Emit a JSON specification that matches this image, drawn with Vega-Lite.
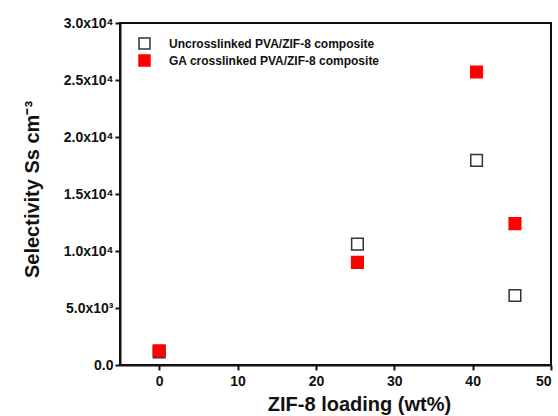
{
  "$schema": "https://vega.github.io/schema/vega-lite/v6.json",
  "autosize": "none",
  "width": 431,
  "height": 342,
  "padding": {"left": 120, "top": 23, "right": 7, "bottom": 51},
  "background": "white",
  "config": {
    "font": "Liberation Sans",
    "view": {"stroke": "#111", "strokeWidth": 2},
    "axis": {"grid": false, "domainColor": "#111", "domainWidth": 2, "tickColor": "#111", "tickWidth": 2, "tickSize": 5, "labelFont": "Liberation Sans", "labelFontWeight": "bold", "labelFontSize": 14, "labelColor": "#111", "titleFont": "Liberation Sans", "titleFontWeight": "bold", "titleFontSize": 20, "titleColor": "#111"}
  },
  "data": {
    "values": [
      {"loading": 0, "selectivity": 1150, "series": "Uncrosslinked PVA/ZIF-8 composite"},
      {"loading": 25.3, "selectivity": 10600, "series": "Uncrosslinked PVA/ZIF-8 composite"},
      {"loading": 40.5, "selectivity": 17950, "series": "Uncrosslinked PVA/ZIF-8 composite"},
      {"loading": 45.4, "selectivity": 6100, "series": "Uncrosslinked PVA/ZIF-8 composite"},
      {"loading": 0, "selectivity": 1250, "series": "GA crosslinked PVA/ZIF-8 composite"},
      {"loading": 25.3, "selectivity": 9000, "series": "GA crosslinked PVA/ZIF-8 composite"},
      {"loading": 40.5, "selectivity": 25700, "series": "GA crosslinked PVA/ZIF-8 composite"},
      {"loading": 45.4, "selectivity": 12400, "series": "GA crosslinked PVA/ZIF-8 composite"}
    ]
  },
  "mark": {"type": "point", "shape": "square", "size": 135, "filled": false, "strokeWidth": 1.5, "opacity": 1},
  "encoding": {
    "x": {
      "field": "loading", "type": "quantitative",
      "scale": {"domain": [-5, 50], "nice": false, "zero": false},
      "axis": {"values": [0, 10, 20, 30, 40, 50], "title": "ZIF-8 loading (wt%)", "labelPadding": 4, "titlePadding": 6, "titleX": 239, "titleAlign": "center"}
    },
    "y": {
      "field": "selectivity", "type": "quantitative",
      "scale": {"domain": [0, 30000], "nice": false},
      "axis": {"values": [0, 5000, 10000, 15000, 20000, 25000, 30000], "title": "Selectivity Ss cm⁻³", "titlePadding": 21, "titleY": 166, "titleAlign": "center",
        "labelExpr": "datum.value == 0 ? '0.0' : datum.value < 10000 ? format(datum.value/1000,'.1f') + 'x10³' : format(datum.value/10000,'.1f') + 'x10⁴'"}
    },
    "fill": {
      "field": "series", "type": "nominal",
      "scale": {"domain": ["Uncrosslinked PVA/ZIF-8 composite", "GA crosslinked PVA/ZIF-8 composite"], "range": ["white", "#ff0000"]},
      "legend": {"orient": "none", "legendX": 18, "legendY": 14, "title": null, "labelFont": "Liberation Sans", "labelFontWeight": "bold", "labelFontSize": 12, "labelColor": "#111", "labelLimit": 0, "symbolSize": 120, "labelOffset": 18, "rowPadding": 0, "symbolStrokeWidth": 1.5}
    },
    "stroke": {
      "field": "series", "type": "nominal",
      "scale": {"domain": ["Uncrosslinked PVA/ZIF-8 composite", "GA crosslinked PVA/ZIF-8 composite"], "range": ["#333333", "#ff0000"]},
      "legend": {"orient": "none", "legendX": 18, "legendY": 14, "title": null, "labelFont": "Liberation Sans", "labelFontWeight": "bold", "labelFontSize": 12, "labelColor": "#111", "labelLimit": 0, "symbolSize": 120, "labelOffset": 18, "rowPadding": 0, "symbolStrokeWidth": 1.5}
    },
    "order": {"field": "series", "sort": "descending"}
  }
}
